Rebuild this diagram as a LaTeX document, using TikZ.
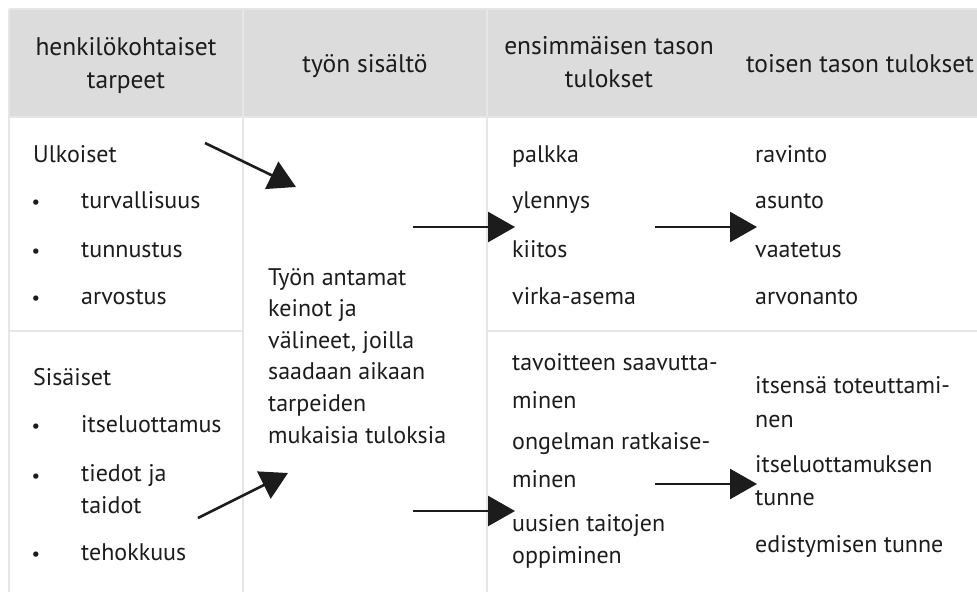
\documentclass[tikz,border=0pt]{standalone}
\usepackage{fontspec}
\setmainfont{PT Sans}
\usepackage{tikz}
\usetikzlibrary{arrows.meta}
\definecolor{gridgray}{HTML}{E6E6E6}
\definecolor{headgray}{HTML}{DCDCDC}
\definecolor{inkgray}{HTML}{1C1C1C}

\begin{document}
\begin{tikzpicture}[x=1pt,y=-1pt]
        \tikzset{cell/.style={anchor=base west, inner sep=0pt, text=inkgray, align=left, font=\fontsize{24}{31.6}\selectfont},
                 head/.style={cell, anchor=base, align=center, font=\fontsize{25.5}{31.6}\selectfont},
                 dot/.style={anchor=base, inner sep=0pt, text=inkgray, font=\fontsize{19}{19}\selectfont},
                 flow/.style={-{Triangle[length=27pt, width=30pt]}, line width=2.6pt, draw=inkgray},
                 grid/.style={draw=gridgray, line width=2.5pt}}
        \useasboundingbox (0,0) rectangle (977,592);

        % header band and table lines
        \fill[headgray] (9,9) rectangle (977,117);
        \draw[grid] (9,9) -- (977,9);
        \draw[grid] (9,117) -- (977,117);
        \draw[grid] (9,9) -- (9,592);
        \draw[grid] (243,9) -- (243,592);
        \draw[grid] (487,9) -- (487,592);
        \draw[grid] (9,331) -- (243,331);
        \draw[grid] (487,331) -- (977,331);

        \node[head] (tarpeet) at (126,88) {henkilökohtaiset\\[1.4pt]tarpeet};
        \node[head] (sisalto) at (365,72) {työn sisältö};
        \node[head] (ens) at (609,87) {ensimmäisen tason\\[1.4pt]tulokset};
        \node[head] (toinen) at (860,72) {toisen tason tulokset};

        % ulkoiset tarpeet
        \node[cell] (ulk) at (33,162) {Ulkoiset};
        \node[dot] (d1) at (36,208) {\textbullet};
        \node[cell] (tur) at (81,208) {turvallisuus};
        \node[dot] (d2) at (36,257) {\textbullet};
        \node[cell] (tun) at (81,257) {tunnustus};
        \node[dot] (d3) at (36,304) {\textbullet};
        \node[cell] (arv) at (81,304) {arvostus};

        % sisaiset tarpeet
        \node[cell] (sis) at (33,385) {Sisäiset};
        \node[dot] (d4) at (36,432) {\textbullet};
        \node[cell] (itse) at (81,432) {itseluottamus};
        \node[dot] (d5) at (36,482) {\textbullet};
        \node[cell] (tiedot) at (81,513) {tiedot ja\\taidot};
        \node[dot] (d6) at (36,560) {\textbullet};
        \node[cell] (teho) at (81,560) {tehokkuus};

        \node[cell] (keinot) at (268,443) {Työn antamat\\keinot ja\\välineet, joilla\\saadaan aikaan\\tarpeiden\\mukaisia tuloksia};

        % tulokset
        \node[cell] (palkka) at (512,162) {palkka};
        \node[cell] (ylennys) at (512,208) {ylennys};
        \node[cell] (kiitos) at (512,257) {kiitos};
        \node[cell] (virka) at (512,304) {virka-asema};
        \node[cell] (ravinto) at (755,162) {ravinto};
        \node[cell] (asunto) at (755,208) {asunto};
        \node[cell] (vaate) at (755,257) {vaatetus};
        \node[cell] (arvon) at (755,304) {arvonanto};

        \node[cell] (tavoite) at (512,408) {tavoitteen saavutta-\\[6.4pt]minen};
        \node[cell] (ongelma) at (512,487) {ongelman ratkaise-\\[6.4pt]minen};
        \node[cell] (uusien) at (512,563) {uusien taitojen\\oppiminen};
        \node[cell] (toteutus) at (755,427) {itsensä toteuttami-\\[2.4pt]nen};
        \node[cell] (luottamus) at (755,505) {itseluottamuksen\\[1.4pt]tunne};
        \node[cell] (edistys) at (755,552) {edistymisen tunne};

        % arrows
        \coordinate (a1) at (205,143);
        \coordinate (b1) at (296,187);
        \coordinate (a2) at (198,518);
        \coordinate (b2) at (288,473);
        \coordinate (a3) at (413,227);
        \coordinate (b3) at (515,227);
        \coordinate (a4) at (413,511);
        \coordinate (b4) at (515,511);
        \coordinate (a5) at (655,227);
        \coordinate (b5) at (757,227);
        \coordinate (a6) at (655,484);
        \coordinate (b6) at (757,484);
        \draw[flow] (a1) -- (b1);
        \draw[flow] (a2) -- (b2);
        \draw[flow] (a3) -- (b3);
        \draw[flow] (a4) -- (b4);
        \draw[flow] (a5) -- (b5);
        \draw[flow] (a6) -- (b6);
\end{tikzpicture}
\end{document}
